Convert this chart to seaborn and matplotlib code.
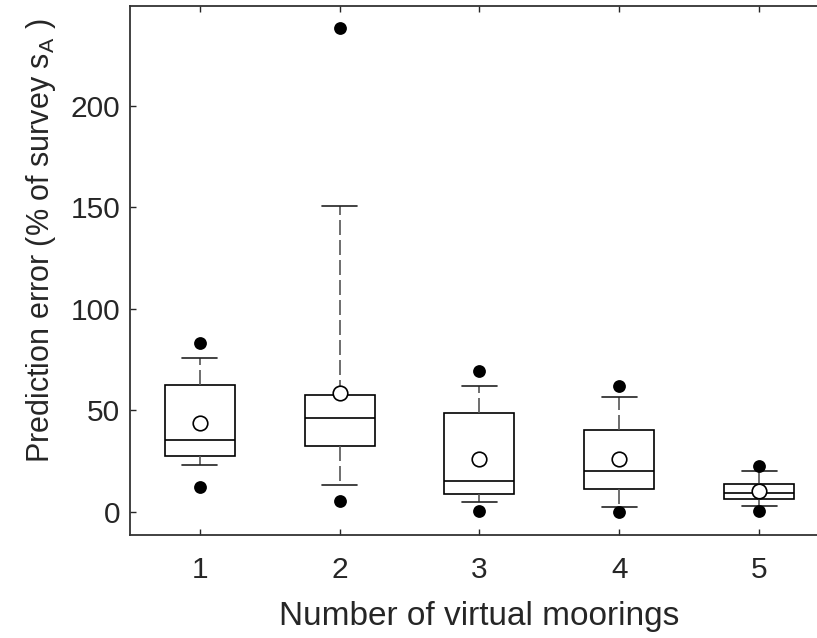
import matplotlib
matplotlib.use("Agg")
import matplotlib.pyplot as plt
import seaborn as sns
import pandas as pd

# values (per number of virtual moorings)
moorings = [1, 2, 3, 4, 5]
whisk_lo = [23.2, 13.1, 4.6, 2.1, 2.8]
q1       = [27.5, 32.2, 8.7, 11.1, 6.0]
med      = [35.5, 46.0, 15.1, 19.8, 9.3]
q3       = [62.3, 57.5, 48.7, 40.0, 13.7]
whisk_hi = [75.8, 150.5, 62.0, 56.3, 20.0]
means    = [43.6, 58.4, 25.7, 25.7, 10.1]
pt_hi    = [83.1, 238.3, 69.2, 62.0, 22.6]
pt_lo    = [12.2, 5.1, 0.3, 0.0, 0.3]

sns.set_style("ticks")
plt.rcParams["font.family"] = ["Liberation Sans", "DejaVu Sans"]
plt.rcParams["mathtext.default"] = "regular"
TXT = "#262626"

# long table of five-number summaries -> seaborn boxes span min..max
rows = []
for i, m in enumerate(moorings):
    for v in (whisk_lo[i], q1[i], med[i], q3[i], whisk_hi[i]):
        rows.append({"moorings": m, "error": v})
df = pd.DataFrame(rows)

fig = plt.figure(figsize=(8.17, 6.38), dpi=100)
ax = fig.add_axes([0.159, 0.1614, 0.8556, 0.829])

sns.boxplot(data=df, x="moorings", y="error", native_scale=True, width=0.5,
            whis=(0, 100), color="white", saturation=1, linecolor="black",
            linewidth=1.2, showfliers=False, ax=ax,
            whiskerprops=dict(color="#555555", linestyle=(0, (9, 3))),
            capprops=dict(color="#222222"),
            medianprops=dict(color="black"))

sns.scatterplot(x=moorings, y=pt_hi, color="black", s=85, linewidth=0,
                zorder=5, ax=ax, legend=False)
sns.scatterplot(x=moorings, y=pt_lo, color="black", s=85, linewidth=0,
                zorder=5, ax=ax, legend=False)
sns.scatterplot(x=moorings, y=means, marker="o", s=110, facecolor="white",
                edgecolor="black", linewidth=1.2, zorder=6, ax=ax, legend=False)

ax.set_xlim(0.5, 5.5)
ax.set_ylim(-11.5, 249)
ax.set_xticks(moorings)
ax.set_yticks([0, 50, 100, 150, 200])
ax.tick_params(direction="in", top=True, right=True, length=4.5, width=1,
               labelsize=21.5, colors=TXT)
ax.tick_params(axis="x", pad=15)
ax.tick_params(axis="y", pad=7)
for s in ax.spines.values():
    s.set_visible(True)
    s.set_color("#333333")
    s.set_linewidth(1.3)

ax.set_xlabel("Number of virtual moorings", fontsize=24, color=TXT, labelpad=12)
ax.set_ylabel("Prediction error (% of survey s$_{A}$ )", fontsize=22, color=TXT)
ax.yaxis.set_label_coords(-0.103, 0.556)

fig.savefig("out.png", dpi=100)
